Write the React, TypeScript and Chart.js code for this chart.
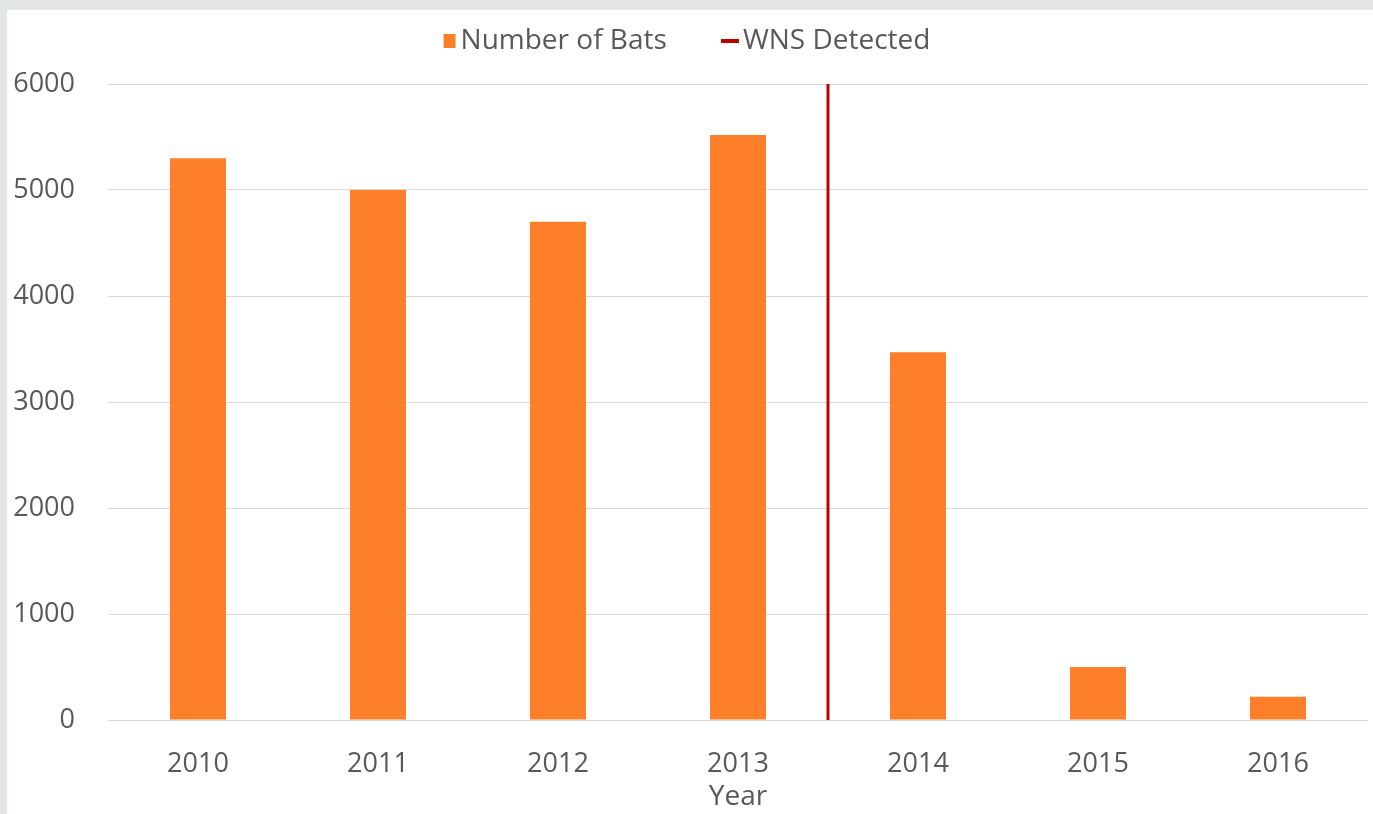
import { useEffect, useRef } from "react";
import { Chart, registerables, layouts } from "chart.js";

Chart.register(...registerables);

// ---- data ----
const categories = ["2010", "2011", "2012", "2013", "2014", "2015", "2016"];
const batCounts = [5300, 5000, 4700, 5520, 3470, 500, 220];
const seriesNames = ["Number of Bats", "WNS Detected"];
// WNS detected between the 2013 and 2014 surveys (category index 3.5)
const wnsPosition = [3.5, 3.5];
const wnsValues = [0, 6000];
const yTickValues = [0, 1000, 2000, 3000, 4000, 5000, 6000];
const xAxisTitle = "Year";

// ---- style ----
const BAR_COLOR = "#fe7f2a";
const WNS_COLOR = "#c00000";
const TEXT_COLOR = "#595959";
const GRID_COLOR = "#d9d9d9";
const BG_GRAY = "#e2e6e7";
const FONT = "'Open Sans', 'Noto Sans', sans-serif";
const LEGEND_GAP = 19;

function makeMarker(w: number, h: number, x: number, y: number, mw: number, mh: number, color: string) {
  const c = document.createElement("canvas");
  c.width = w;
  c.height = h;
  const ctx = c.getContext("2d")!;
  ctx.fillStyle = color;
  ctx.fillRect(x, y, mw, mh);
  return c;
}

// empty layout box placed between the legend and the plot area
const legendSpacer = {
  id: "legendSpacer",
  beforeInit(chart: any) {
    const box: any = {
      position: "top",
      weight: 500,
      fullSize: true,
      options: {},
      width: 0,
      height: 0,
      left: 0,
      top: 0,
      right: 0,
      bottom: 0,
      isHorizontal() {
        return true;
      },
      update(maxWidth: number) {
        this.width = maxWidth;
        this.height = LEGEND_GAP;
      },
      draw() {},
    };
    layouts.addBox(chart, box);
  },
};

export default function App() {
  const ref = useRef<HTMLCanvasElement | null>(null);

  useEffect(() => {
    if (!ref.current) return;
    const orangeMarker = makeMarker(40, 14, 18, 0, 12, 14, BAR_COLOR);
    const redMarker = makeMarker(40, 4, 13, 0, 18, 4, WNS_COLOR);

    const chart = new Chart(ref.current, {
      type: "bar",
      data: {
        labels: categories,
        datasets: [
          {
            type: "bar",
            label: seriesNames[0],
            data: batCounts,
            backgroundColor: BAR_COLOR,
            borderWidth: 0,
            grouped: false,
            barPercentage: 0.311,
            categoryPercentage: 1,
            xAxisID: "x",
          } as any,
          {
            type: "line",
            label: seriesNames[1],
            data: wnsPosition.map((x, i) => ({ x, y: wnsValues[i] })),
            borderColor: WNS_COLOR,
            backgroundColor: WNS_COLOR,
            borderWidth: 3,
            pointRadius: 0,
            fill: false,
            xAxisID: "x2",
          } as any,
        ],
      },
      plugins: [legendSpacer],
      options: {
        responsive: false,
        animation: false,
        events: [],
        layout: { padding: { left: 0, right: 5, top: 0, bottom: 0 } },
        plugins: {
          tooltip: { enabled: false },
          legend: {
            position: "top",
            align: "center",
            labels: {
              usePointStyle: true,
              boxWidth: 2,
              padding: 31,
              color: TEXT_COLOR,
              font: { family: FONT, size: 28 },
              generateLabels: () => [
                {
                  text: seriesNames[0] + "    ",
                  pointStyle: orangeMarker as any,
                  fillStyle: BAR_COLOR,
                  strokeStyle: BAR_COLOR,
                  lineWidth: 0,
                  hidden: false,
                  datasetIndex: 0,
                  fontColor: TEXT_COLOR,
                },
                {
                  text: seriesNames[1],
                  pointStyle: redMarker as any,
                  fillStyle: WNS_COLOR,
                  strokeStyle: WNS_COLOR,
                  lineWidth: 0,
                  hidden: false,
                  datasetIndex: 1,
                  fontColor: TEXT_COLOR,
                },
              ],
            },
          },
        },
        scales: {
          x: {
            type: "category",
            offset: true,
            grid: { display: false },
            border: { display: false },
            ticks: {
              color: TEXT_COLOR,
              font: { family: FONT, size: 27 },
              padding: 20,
              maxRotation: 0,
            },
            title: {
              display: true,
              text: xAxisTitle,
              color: TEXT_COLOR,
              font: { family: FONT, size: 28 },
              padding: { top: 0, bottom: 0 },
            },
            afterFit: (s: any) => {
              s.height = 94;
            },
          },
          x2: {
            type: "linear",
            position: "bottom",
            display: true,
            offset: false,
            bounds: "data",
            min: -0.5,
            max: categories.length - 0.5,
            grid: { display: false },
            border: { display: false },
            ticks: { display: false },
            afterFit: (s: any) => {
              s.height = 0;
            },
          },
          y: {
            min: yTickValues[0],
            max: yTickValues[yTickValues.length - 1],
            border: { display: false },
            grid: { color: GRID_COLOR, lineWidth: 1, drawTicks: false },
            afterBuildTicks: (s: any) => {
              s.ticks = yTickValues.map((v) => ({ value: v }));
            },
            ticks: {
              color: TEXT_COLOR,
              font: { family: FONT, size: 27 },
              padding: 33,
              callback: (v: any) => String(v),
            },
            afterFit: (s: any) => {
              s.width = 101;
            },
          },
        },
      },
    });
    return () => chart.destroy();
  }, []);

  return (
    <div style={{ position: "fixed", inset: 0, background: BG_GRAY, overflow: "hidden" }}>
      <div style={{ position: "absolute", left: 7, top: 10, right: 0, bottom: 0, background: "#ffffff" }} />
      <canvas
        ref={ref}
        width={1366}
        height={818}
        style={{ position: "absolute", left: 7, top: -4, width: 1366, height: 818 }}
      />
    </div>
  );
}
